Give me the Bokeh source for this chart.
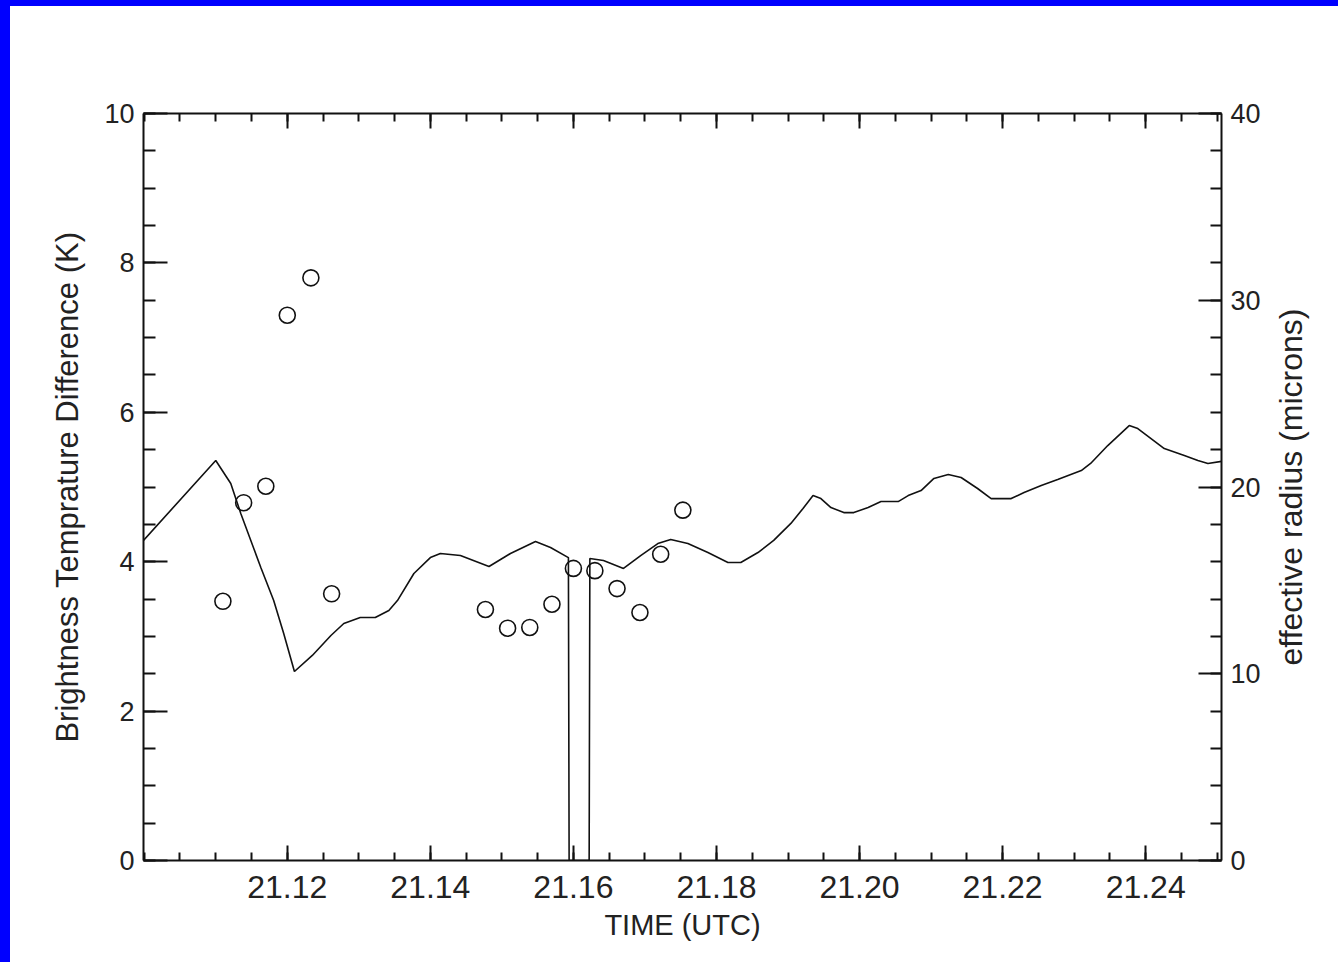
import math
from bokeh.plotting import figure
from bokeh.layouts import row
from bokeh.models import (Range1d, LinearAxis, FixedTicker, SingleIntervalTicker,
                          PrintfTickFormatter)
from bokeh.embed import file_html
from bokeh.resources import INLINE

# ---- data -------------------------------------------------------------
# effective radius (microns) time series (right axis)
time_line = [21.0999, 21.1100, 21.1121, 21.1135, 21.1163, 21.1181, 21.1195, 21.1210,
             21.1235, 21.1261, 21.1279, 21.1302, 21.1323, 21.1342, 21.1354, 21.1377,
             21.1400, 21.1414, 21.1442, 21.1482, 21.1512, 21.1547, 21.1568, 21.1593,
             21.1594, 21.1622, 21.1623, 21.1642, 21.1670, 21.1694, 21.1718, 21.1736,
             21.1760, 21.1788, 21.1816, 21.1834, 21.1858, 21.1880, 21.1904, 21.1921,
             21.1935, 21.1946, 21.1960, 21.1978, 21.1992, 21.2012, 21.2030, 21.2054,
             21.2068, 21.2086, 21.2104, 21.2124, 21.2142, 21.2165, 21.2184, 21.2212,
             21.2230, 21.2254, 21.2277, 21.2310, 21.2323, 21.2347, 21.2377, 21.2389,
             21.2426, 21.2454, 21.2473, 21.2487, 21.2506]
radius_line = [17.14, 21.42, 20.19, 18.58, 15.69, 13.92, 12.16, 10.12,
               10.98, 12.05, 12.69, 13.01, 13.01, 13.39, 13.92, 15.37,
               16.22, 16.44, 16.33, 15.74, 16.44, 17.08, 16.76, 16.22,
               0.0, 0.0, 16.17, 16.06, 15.64, 16.33, 16.97, 17.19,
               16.97, 16.49, 15.96, 15.96, 16.49, 17.14, 18.05, 18.85,
               19.54, 19.38, 18.90, 18.63, 18.63, 18.90, 19.22, 19.22,
               19.54, 19.81, 20.46, 20.67, 20.51, 19.92, 19.38, 19.38,
               19.71, 20.08, 20.40, 20.88, 21.26, 22.22, 23.29, 23.13,
               22.06, 21.69, 21.42, 21.26, 21.37]

# brightness temperature difference (K) points (left axis)
time_pts = [21.1110, 21.1139, 21.1170, 21.1200, 21.1233, 21.1262, 21.1477, 21.1508,
            21.1539, 21.1570, 21.1600, 21.1630, 21.1661, 21.1693, 21.1722, 21.1753]
btd_pts = [3.47, 4.79, 5.01, 7.30, 7.80, 3.57, 3.36, 3.11,
           3.12, 3.43, 3.91, 3.88, 3.64, 3.32, 4.10, 4.69]

# tick positions
x_major = [21.12, 21.14, 21.16, 21.18, 21.20, 21.22, 21.24]
x_minor = [21.100, 21.105, 21.110, 21.115, 21.120, 21.125, 21.130, 21.135, 21.140,
           21.145, 21.150, 21.155, 21.160, 21.165, 21.170, 21.175, 21.180, 21.185,
           21.190, 21.195, 21.200, 21.205, 21.210, 21.215, 21.220, 21.225, 21.230,
           21.235, 21.240, 21.245, 21.250]

X_LO, X_HI = 21.0999, 21.2506
Y_LO, Y_HI = 0, 10
R_LO, R_HI = 0, 40

FONT = "Liberation Sans"
TXT = "#222222"
AX = "#111111"

p = figure(frame_width=1078, frame_height=747,
           x_range=Range1d(X_LO, X_HI), y_range=Range1d(Y_LO, Y_HI),
           output_backend="svg", toolbar_location=None,
           min_border_left=135, min_border_right=48,
           min_border_top=105, min_border_bottom=94,
           x_axis_location=None, y_axis_location=None)
p.extra_y_ranges = {"r": Range1d(R_LO, R_HI)}
p.border_fill_color = None
p.background_fill_color = "white"
p.outline_line_color = None
p.xgrid.visible = False
p.ygrid.visible = False


def style_axis(ax, maj_in, min_in):
    ax.axis_line_color = AX
    ax.axis_line_width = 2
    ax.major_tick_line_color = AX
    ax.major_tick_line_width = 2
    ax.minor_tick_line_color = AX
    ax.minor_tick_line_width = 2
    ax.major_tick_in = maj_in
    ax.major_tick_out = 0
    ax.minor_tick_in = min_in
    ax.minor_tick_out = 0
    ax.major_label_text_font = FONT
    ax.major_label_text_color = TXT
    ax.axis_label_text_font = FONT
    ax.axis_label_text_color = TXT
    ax.axis_label_text_font_style = "normal"


# bottom axis
xb = LinearAxis(ticker=FixedTicker(ticks=x_major, minor_ticks=x_minor),
                formatter=PrintfTickFormatter(format="%.2f"),
                axis_label="TIME (UTC)")
style_axis(xb, 15, 8)
xb.major_label_text_font_size = "32px"
xb.major_label_standoff = 15
xb.axis_label_text_font_size = "29px"
xb.axis_label_standoff = 8
p.add_layout(xb, "below")

# top axis (ticks only)
xt = LinearAxis(ticker=FixedTicker(ticks=x_major, minor_ticks=x_minor))
style_axis(xt, 15, 8)
xt.major_label_text_color = None
xt.major_label_text_font_size = "1px"
p.add_layout(xt, "above")

# left axis
yl = LinearAxis(ticker=SingleIntervalTicker(interval=2, num_minor_ticks=4),
                axis_label="Brightness Temprature Difference (K)")
style_axis(yl, 24, 12)
yl.major_label_text_font_size = "27px"
yl.major_label_standoff = 9
yl.axis_label_text_font_size = "31px"
yl.axis_label_standoff = 16
p.add_layout(yl, "left")

# right axis (ticks + tick labels)
yr = LinearAxis(y_range_name="r",
                ticker=SingleIntervalTicker(interval=10, num_minor_ticks=5))
style_axis(yr, 23, 11)
yr.major_label_text_font_size = "27px"
yr.major_label_standoff = 9
p.add_layout(yr, "right")

# data
p.line(time_line, radius_line, y_range_name="r", line_color=AX, line_width=1.6)
p.scatter(time_pts, btd_pts, marker="circle", size=16, fill_color=None,
          line_color=AX, line_width=1.6)

# narrow companion panel carrying the right-hand title (reads bottom-to-top)
p2 = figure(frame_width=1, frame_height=747,
            x_range=Range1d(0, 1), y_range=Range1d(R_LO, R_HI),
            output_backend="svg", toolbar_location=None,
            min_border_left=60, min_border_right=0,
            min_border_top=105, min_border_bottom=94,
            x_axis_location=None, y_axis_location=None)
p2.border_fill_color = None
p2.background_fill_color = None
p2.outline_line_color = None
p2.xgrid.visible = False
p2.ygrid.visible = False
t_ax = LinearAxis(ticker=FixedTicker(ticks=[]), axis_label="effective radius (microns)")
t_ax.axis_line_color = None
t_ax.major_tick_line_color = None
t_ax.minor_tick_line_color = None
t_ax.major_label_text_color = None
t_ax.axis_label_text_font = FONT
t_ax.axis_label_text_color = TXT
t_ax.axis_label_text_font_style = "normal"
t_ax.axis_label_text_font_size = "32px"
t_ax.axis_label_standoff = 27
p2.add_layout(t_ax, "left")

layout = row(p, p2, spacing=0)

html = file_html(layout, INLINE)
css = ("<style>html{overflow:hidden;height:auto !important;}"
       "body{margin:8px !important;padding:0 !important;height:auto !important;"
       "background:linear-gradient(#0000ff,#0000ff) 0 0/100% 6px no-repeat,"
       "linear-gradient(#0000ff,#0000ff) 0 0/10px 100% no-repeat,#ffffff !important;}"
       "</style>")
html = html.replace("</head>", css + "</head>", 1)
open("out.html", "w").write(html)
